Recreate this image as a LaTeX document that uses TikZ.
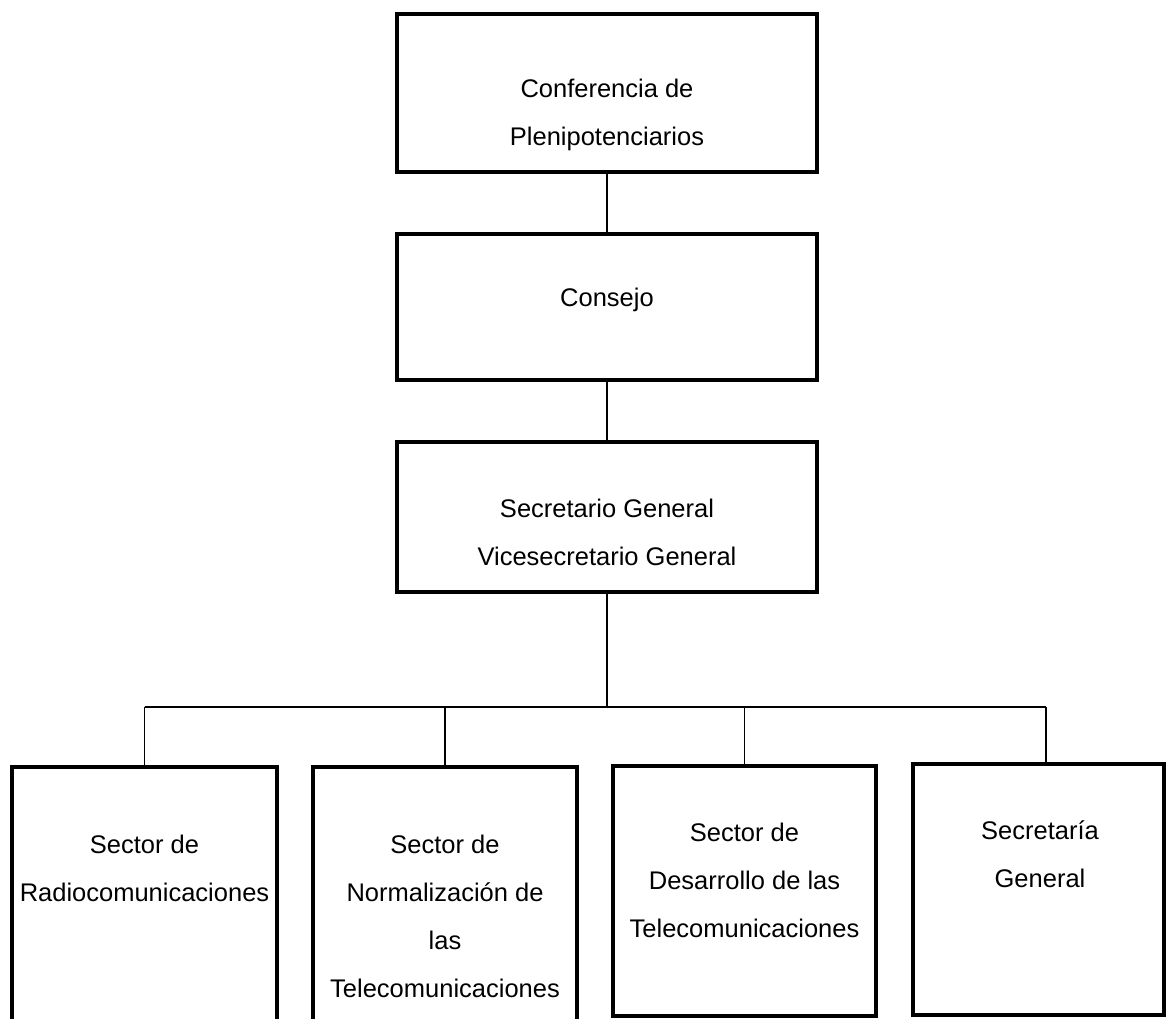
\documentclass[tikz,border=0pt]{standalone}
\usepackage{fontspec}
\setmainfont{Liberation Sans}
\begin{document}
\begin{tikzpicture}[x=1pt,y=-1pt,
  box/.style={draw,line width=3.6pt,rectangle,inner sep=0pt},
  lbl/.style={align=center,inner sep=0pt,font=\fontsize{25.5}{48}\selectfont},
  conn/.style={line width=1.7pt}]
\useasboundingbox (0,0) rectangle (1167,1018);
\clip (0,0) rectangle (1167,1018);
% boxes
\node[box,minimum width=420pt,minimum height=158pt] (conf) at (607,93) {};
\node[box,minimum width=420pt,minimum height=146pt] (cons) at (607,307) {};
\node[box,minimum width=420pt,minimum height=150pt] (sg) at (607,517) {};
\node[box,minimum width=265pt,minimum height=273pt] (b1) at (144.5,903.5) {};
\node[box,minimum width=264pt,minimum height=273pt] (b2) at (445,903.5) {};
\node[box,minimum width=263pt,minimum height=250pt] (b3) at (744.5,891) {};
\node[box,minimum width=251pt,minimum height=251pt] (b4) at (1038.5,889.5) {};
% texts
\node[lbl] (tconf) at (607,115) {Conferencia de\\Plenipotenciarios};
\node[lbl] (tcons) at (607,300) {Consejo};
\node[lbl] (tsg) at (607,532) {Secretario General\\Vicesecretario General};
\node[lbl] (tb1) at (144.5,868) {Sector de\\Radiocomunicaciones};
\node[lbl] (tb2) at (445,916) {Sector de\\Normalización de\\las\\Telecomunicaciones};
\node[lbl] (tb3) at (744.5,880) {Sector de\\Desarrollo de las\\Telecomunicaciones};
\node[lbl] (tb4) at (1040,854) {Secretaría\\General};
% connectors
\coordinate (bus) at (607,707);
\coordinate (k1) at (144.5,707);
\coordinate (k2) at (445,707);
\coordinate (k3) at (744.5,707);
\coordinate (k4) at (1046,707);
\draw[conn] (conf.south) -- (cons.north);
\draw[conn] (cons.south) -- (sg.north);
\draw[conn] (sg.south) -- (bus);
\draw[conn] (k1) -- (k4);
\draw[conn] (k1) -- (b1.north);
\draw[conn] (k2) -- (b2.north);
\draw[conn] (k3) -- (b3.north);
\draw[conn] (k4) -- (k4 |- b4.north);
\end{tikzpicture}
\end{document}
